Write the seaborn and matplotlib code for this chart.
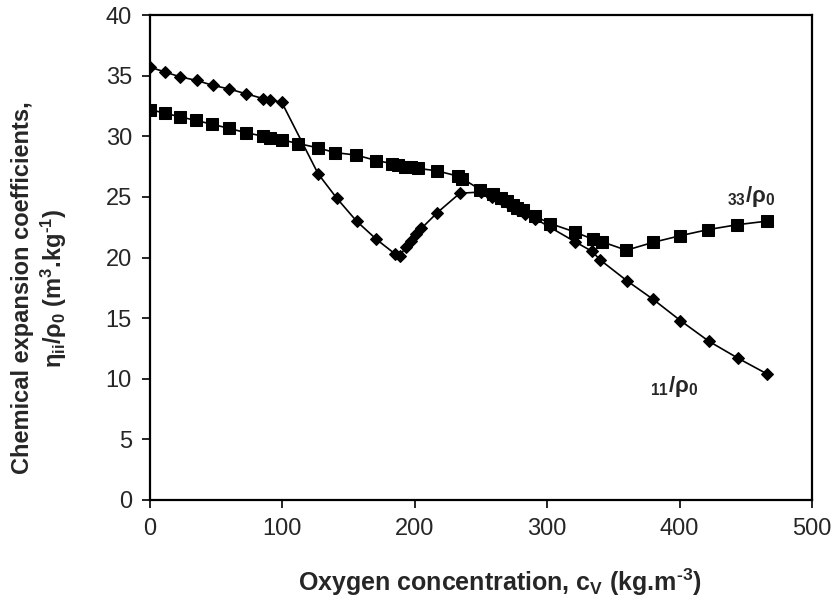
import matplotlib
matplotlib.use("Agg")
import matplotlib.pyplot as plt
import seaborn as sns
import pandas as pd

# eta_11 / rho_0 (diamonds)
c11 = [0, 11.3, 22.7, 35.3, 47.4, 59.7, 72.6, 85.7, 90.7, 99.5,
       127, 141, 156, 171, 185, 189, 193, 197, 201, 205, 217, 234,
       250, 258, 265, 270, 274, 278, 283, 291, 302, 321, 334, 340,
       360, 380, 400.6, 422, 444, 466]
eta11 = [35.7, 35.3, 34.9, 34.6, 34.2, 33.9, 33.5, 33.1, 33.0, 32.8,
         26.9, 24.9, 23.0, 21.5, 20.3, 20.1, 20.9, 21.4, 21.9, 22.4, 23.7, 25.3,
         25.4, 25.0, 24.8, 24.6, 24.2, 23.9, 23.6, 23.2, 22.5, 21.3, 20.5, 19.8,
         18.1, 16.55, 14.8, 13.1, 11.7, 10.4]

# eta_33 / rho_0 (squares)
c33 = [0, 11.3, 22.7, 34.8, 46.6, 59.7, 72.3, 85.6, 90.7, 99.5,
       112, 126.6, 139.8, 155.7, 170.8, 182.6, 187, 192.7, 197, 202.6,
       216.6, 233, 236, 249.4, 259, 265, 269.4, 274, 277, 282, 291,
       302.3, 321, 334.6, 341.3, 359.8, 380, 400.6, 421.5, 443.3, 466]
eta33 = [32.2, 31.9, 31.6, 31.3, 31.0, 30.65, 30.3, 30.0, 29.85, 29.7,
         29.4, 29.05, 28.65, 28.45, 28.0, 27.75, 27.65, 27.5, 27.45, 27.35,
         27.15, 26.7, 26.5, 25.6, 25.2, 24.9, 24.7, 24.3, 24.1, 23.9, 23.4,
         22.8, 22.1, 21.5, 21.3, 20.6, 21.25, 21.8, 22.3, 22.7, 23.0]

x_ticks = [0, 100, 200, 300, 400, 500]
y_ticks = [0, 5, 10, 15, 20, 25, 30, 35, 40]

sns.set_style("ticks")
plt.rcParams["font.family"] = ["Liberation Sans", "DejaVu Sans"]
plt.rcParams["mathtext.fontset"] = "custom"
plt.rcParams["mathtext.rm"] = "Liberation Sans:bold"
plt.rcParams["mathtext.it"] = "Liberation Sans:bold"
plt.rcParams["mathtext.bf"] = "Liberation Sans:bold"

fig = plt.figure(figsize=(8.36, 6.04), dpi=100)
ax = fig.add_axes([150 / 836, 1 - 500 / 604, 662 / 836, 485 / 604])

df11 = pd.DataFrame({"c": c11, "eta": eta11})
df33 = pd.DataFrame({"c": c33, "eta": eta33})

sns.lineplot(data=df11, x="c", y="eta", ax=ax, sort=False, color="black",
             linewidth=1.2, marker="D", markersize=6, markeredgecolor="black",
             markerfacecolor="black")
sns.lineplot(data=df33, x="c", y="eta", ax=ax, sort=False, color="black",
             linewidth=1.2, marker="s", markersize=9, markeredgecolor="black",
             markerfacecolor="black")

ax.set_xlim(0, 500)
ax.set_ylim(0, 40)
ax.set_xticks(x_ticks)
ax.set_yticks(y_ticks)
ax.tick_params(axis="both", direction="out", length=6, width=1.2,
               labelsize=17, color="black")
ax.tick_params(axis="x", pad=7)
ax.tick_params(axis="y", pad=7)
for s in ax.spines.values():
    s.set_visible(True)
    s.set_linewidth(1.6)
    s.set_color("black")
ax.set_xlabel("")
ax.set_ylabel("")

# axis titles placed in figure pixels
fig.text(500 / 836, 1 - 582 / 604,
         r"Oxygen concentration, c$_\mathregular{V}$ (kg.m$^{\text{-3}}$)",
         fontsize=18, fontweight="bold", ha="center", va="center")
fig.text(40 / 836, 1 - 288 / 604,
         "Chemical expansion coefficients,\n"
         r"$\eta_{ii}/\rho_0$ (m$^3$.kg$^{\text{-1}}$)",
         fontsize=17, fontweight="bold", ha="center", va="center",
         rotation=90, multialignment="center", linespacing=1.2)

ax.text(436, 25.0, r"$_{33}/\rho_0$", fontsize=16, fontweight="bold",
        ha="left", va="center")
ax.text(378, 9.4, r"$_{11}/\rho_0$", fontsize=16, fontweight="bold",
        ha="left", va="center")

fig.savefig("out.png", dpi=100)
